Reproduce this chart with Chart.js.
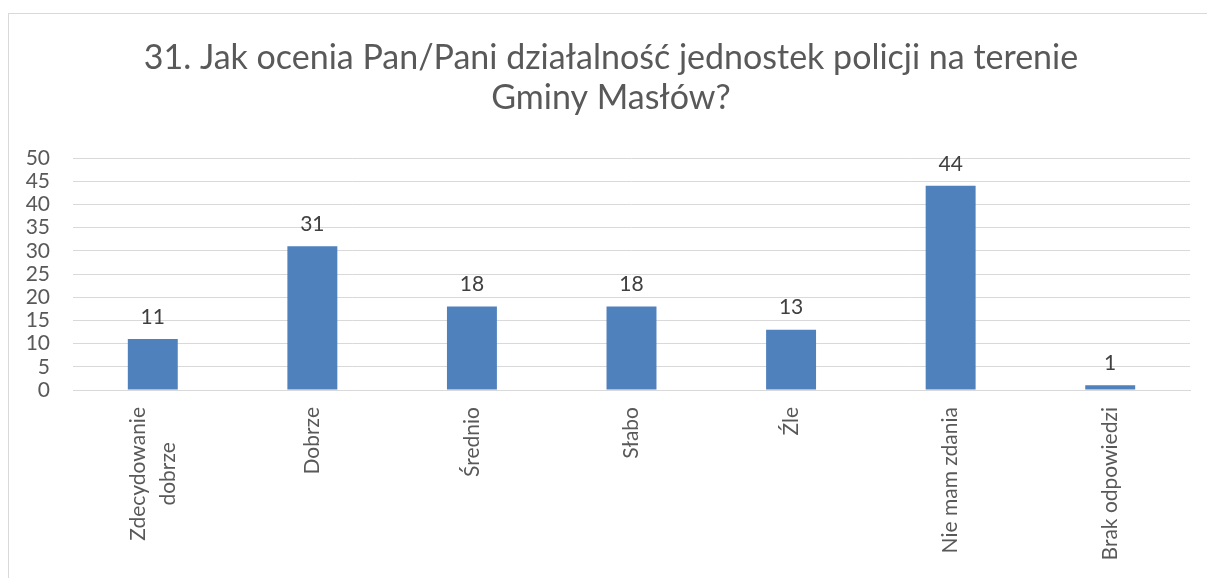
<!DOCTYPE html>
<html><head><meta charset="utf-8">
<script src="https://cdn.jsdelivr.net/npm/chart.js@4"></script>
<style>html,body{margin:0;padding:0;background:#fff}#wrap{width:1207px;height:578px}</style>
</head><body><div id="wrap"><canvas id="c" width="1207" height="578"></canvas></div>
<script>
const categories = [["Zdecydowanie","dobrze"],["Dobrze"],["Średnio"],["Słabo"],["Źle"],["Nie mam zdania"],["Brak odpowiedzi"]];
const values = [11, 31, 18, 18, 13, 44, 1];
const titleLines = ["31. Jak ocenia Pan/Pani działalność jednostek policji na terenie", "Gminy Masłów?"];
const yTicks = {min: 0, max: 50, step: 5};

const FONT = "Lato";
const frame = {
  id: 'frame',
  beforeDraw(chart) {
    const ctx = chart.ctx;
    ctx.save();
    ctx.strokeStyle = '#d9d9d9';
    ctx.lineWidth = 1;
    ctx.strokeRect(8.5, 13.5, 1400, 800);
    // title
    ctx.font = '34px ' + FONT;
    ctx.fillStyle = '#595959';
    ctx.textAlign = 'center';
    ctx.textBaseline = 'alphabetic';
    titleLines.forEach((t, i) => ctx.fillText(t, 611, 69 + i * 39.5));
    ctx.restore();
  }
};
const labelsPlugin = {
  id: 'labelsPlugin',
  afterDatasetsDraw(chart) {
    const ctx = chart.ctx;
    ctx.save();
    ctx.font = '21px ' + FONT;
    ctx.fillStyle = '#404040';
    ctx.textAlign = 'center';
    ctx.textBaseline = 'middle';
    const meta = chart.getDatasetMeta(0);
    meta.data.forEach((bar, i) => {
      ctx.fillText(String(values[i]), bar.x, bar.y - 22);
    });
    // x category labels
    const xs = chart.scales.x;
    ctx.fillStyle = '#595959';
    categories.forEach((lines, i) => {
      const x = xs.getPixelForTick(i);
      const W = Math.max(...lines.map(l => ctx.measureText(l).width));
      ctx.save();
      ctx.translate(x, xs.top + 17);
      ctx.rotate(-Math.PI / 2);
      lines.forEach((l, j) => {
        ctx.fillText(l, -W / 2, (j - (lines.length - 1) / 2) * 30);
      });
      ctx.restore();
    });
    ctx.restore();
  }
};

new Chart(document.getElementById('c'), {
  type: 'bar',
  data: {
    labels: categories.map(c => c.join(' ')),
    datasets: [{
      data: values,
      backgroundColor: '#4f81bd',
      borderColor: '#4f81bd',
      borderWidth: 0,
      categoryPercentage: 1,
      barPercentage: 0.313
    }]
  },
  options: {
    responsive: false,
    animation: false,
    devicePixelRatio: 1,
    layout: {padding: {left: 0, right: 17, top: 158, bottom: 0}},
    plugins: {
      legend: {display: false},
      tooltip: {enabled: false},
      title: {display: false}
    },
    scales: {
      x: {
        grid: {display: false},
        border: {display: true, color: '#d9d9d9'},
        ticks: {display: false},
        afterFit(s) { s.height = 188; }
      },
      y: {
        min: yTicks.min, max: yTicks.max,
        ticks: {stepSize: yTicks.step, autoSkip: false, color: '#595959', font: {family: FONT, size: 21, lineHeight: 1}, padding: 23},
        grid: {color: '#d9d9d9', drawTicks: false},
        border: {display: false},
        afterFit(s) { s.width = 73; }
      }
    }
  },
  plugins: [frame, labelsPlugin]
});
</script></body></html>
